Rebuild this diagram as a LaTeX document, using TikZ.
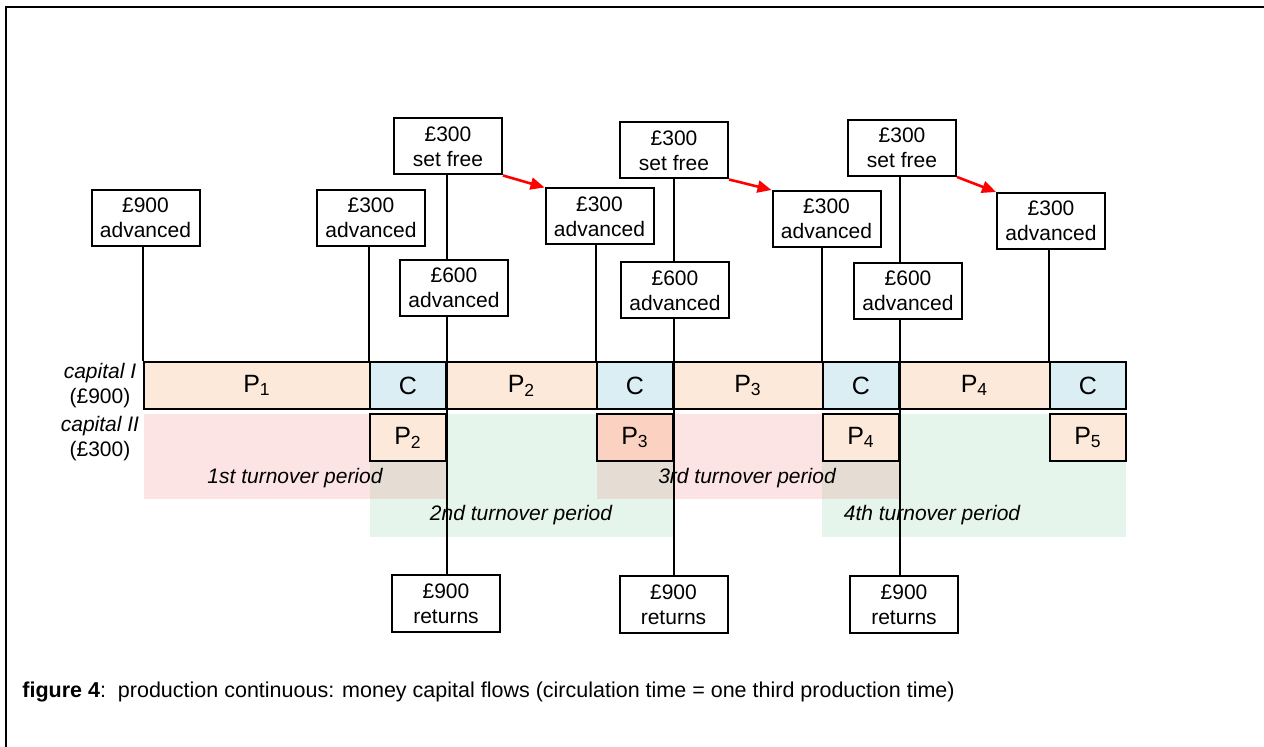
\documentclass[tikz,border=0pt]{standalone}
\usepackage{fontspec}
\setmainfont{Liberation Sans}
\usetikzlibrary{arrows.meta}

\definecolor{pfill}{RGB}{252,233,218}
\definecolor{cfill}{RGB}{218,238,243}
\definecolor{pdark}{RGB}{251,210,193}
\definecolor{pinkshade}{RGB}{253,228,228}
\definecolor{greenshade}{RGB}{230,245,235}
\definecolor{mixshade}{RGB}{229,220,212}

\begin{document}
\begin{tikzpicture}[x=0.5pt,y=-0.5pt,
  money/.style={draw,line width=1pt,fill=white,inner sep=0pt,align=center,
    font=\fontsize{10.5}{12.3}\selectfont,minimum width=54pt,minimum height=28pt},
  seg/.style={draw,line width=1pt,inner sep=0pt,
    font=\fontsize{12.5}{14}\selectfont,minimum height=23.5pt},
  pseg/.style={seg,fill=pfill},
  cseg/.style={seg,fill=cfill,minimum width=38pt},
  period/.style={inner sep=0pt,font=\fontsize{10.5}{12}\selectfont\itshape},
  caplabel/.style={inner sep=0pt,align=center,font=\fontsize{10.5}{12.5}\selectfont},
  vline/.style={line width=1pt},
  freearrow/.style={red,line width=1.3pt,-{Triangle[length=7pt,width=6pt]}}
]
\useasboundingbox (0,0) rectangle (1264,747);

% outer frame
\draw[line width=1pt] (6,747) -- (6,7) -- (1264,7);

% turnover-period shading
\fill[pinkshade] (144,414) rectangle (446,499);
\fill[greenshade] (370,414) rectangle (673,537);
\fill[pinkshade] (597,414) rectangle (899,499);
\fill[greenshade] (822,414) rectangle (1126,537);
\fill[mixshade] (370,414) rectangle (446,499);
\fill[mixshade] (597,414) rectangle (673,499);
\fill[mixshade] (822,414) rectangle (899,499);

\node[period] (t1) at (295,478) {1st turnover period};
\node[period] (t2) at (521,515) {2nd turnover period};
\node[period] (t3) at (747,478) {3rd turnover period};
\node[period] (t4) at (932,515) {4th turnover period};

% capital I: production and circulation periods
\node[pseg,minimum width=113pt] (p1) at (257,385.5) {P\textsubscript{1}};
\node[cseg] (c1) at (408,385.5) {C};
\node[pseg,minimum width=75.5pt] (p2) at (521.5,385.5) {P\textsubscript{2}};
\node[cseg] (c2) at (635,385.5) {C};
\node[pseg,minimum width=75pt] (p3) at (748,385.5) {P\textsubscript{3}};
\node[cseg] (c3) at (861,385.5) {C};
\node[pseg,minimum width=75.5pt] (p4) at (974.5,385.5) {P\textsubscript{4}};
\node[cseg] (c4) at (1088,385.5) {C};

% capital II
\node[pseg,minimum width=38pt] (q2) at (408,437.5) {P\textsubscript{2}};
\node[seg,fill=pdark,minimum width=38pt] (q3) at (635,437.5) {P\textsubscript{3}};
\node[pseg,minimum width=38pt] (q4) at (861,437.5) {P\textsubscript{4}};
\node[pseg,minimum width=38pt] (q5) at (1088,437.5) {P\textsubscript{5}};

\node[caplabel] (capI) at (100,385.5) {\itshape capital I\\(£900)};
\node[caplabel] (capII) at (100,439) {\itshape capital II\\(£300)};

% money boxes
\node[money] (adv900) at (145.5,218) {£900\\advanced};
\node[money] (adv300a) at (371,218) {£300\\advanced};
\node[money] (free1) at (448,146.5) {£300\\set free};
\node[money] (adv600a) at (454,288) {£600\\advanced};
\node[money] (adv300b) at (599.5,216.5) {£300\\advanced};
\node[money] (free2) at (674,150.5) {£300\\set free};
\node[money] (adv600b) at (675,290.5) {£600\\advanced};
\node[money] (adv300c) at (826.5,219) {£300\\advanced};
\node[money] (free3) at (902,148) {£300\\set free};
\node[money] (adv600c) at (908,291) {£600\\advanced};
\node[money] (adv300d) at (1051,221) {£300\\advanced};
\node[money,minimum height=28.5pt] (ret1) at (446,603.5) {£900\\returns};
\node[money,minimum height=28.5pt] (ret2) at (673.5,605) {£900\\returns};
\node[money,minimum height=28.5pt] (ret3) at (904,604.5) {£900\\returns};

% advances into the production periods
\draw[vline] (p1.north west |- adv900.south) -- (p1.north west);
\draw[vline] (c1.north west |- adv300a.south) -- (c1.north west);
\draw[vline] (c2.north west |- adv300b.south) -- (c2.north west);
\draw[vline] (c3.north west |- adv300c.south) -- (c3.north west);
\draw[vline] (c4.north west |- adv300d.south) -- (c4.north west);

% end of each circulation period
\draw[vline] (c1.north east |- free1.south) -- (c1.north east |- adv600a.north);
\draw[vline] (c1.north east |- adv600a.south) -- (c1.north east |- ret1.north);
\draw[vline] (c2.north east |- free2.south) -- (c2.north east |- adv600b.north);
\draw[vline] (c2.north east |- adv600b.south) -- (c2.north east |- ret2.north);
\draw[vline] (c3.north east |- free3.south) -- (c3.north east |- adv600c.north);
\draw[vline] (c3.north east |- adv600c.south) -- (c3.north east |- ret3.north);

% released capital re-advanced
\draw[freearrow] (free1.south east) -- (adv300b.north west);
\draw[freearrow] (free2.south east) -- (adv300c.north west);
\draw[freearrow] (free3.south east) -- (adv300d.north west);

% caption
\node[anchor=west,inner sep=0pt,font=\fontsize{10.75}{12}\selectfont] (cap) at (22,692)
  {\textbf{figure 4}:\ \ production continuous: money capital flows (circulation time = one third production time)};
\end{tikzpicture}
\end{document}
